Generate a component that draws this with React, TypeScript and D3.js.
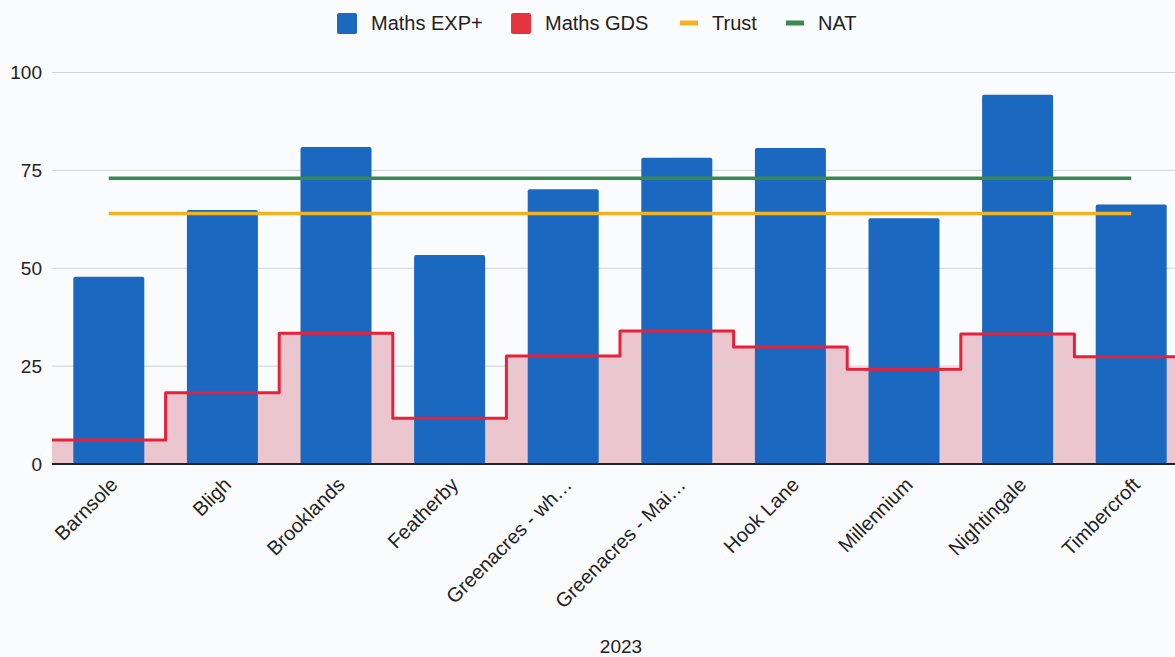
import { useEffect, useRef } from 'react';
import * as d3 from 'd3';

const schools = ['Barnsole', 'Bligh', 'Brooklands', 'Featherby', 'Greenacres - wh\u2026', 'Greenacres - Mai\u2026', 'Hook Lane', 'Millennium', 'Nightingale', 'Timbercroft'];
const mathsExp = [47.8, 64.9, 81, 53.4, 70.2, 78.2, 80.7, 62.8, 94.3, 66.3];
const mathsGds = [6.1, 18.2, 33.4, 11.7, 27.6, 34, 29.9, 24.2, 33.2, 27.4];
const trust = [64, 64, 64, 64, 64, 64, 64, 64, 64, 64];
const nat = [73, 73, 73, 73, 73, 73, 73, 73, 73, 73];
const yTicks = [0, 25, 50, 75, 100];
const xTitle = '2023';

const App = () => {
    const ref = useRef<SVGSVGElement>(null);

    useEffect(() => {
        const width = 1175;
        const height = 657;
        const left = 52;
        const step = 113.6;
        const font = '"Liberation Sans", Arial, sans-serif';

        const svg: any = d3.select(ref.current);
        svg.selectAll('*').remove();
        svg.attr('width', width).attr('height', height);

        svg.append('rect').attr('width', width).attr('height', height).attr('fill', '#fafbfc');

        const x = d3.scaleBand().domain(schools).range([left, left + step * schools.length]).padding(0);
        const y = d3.scaleLinear().domain([0, 100]).range([464, 72.5]);
        const barW = x.bandwidth() * 0.625;
        const cx = (d: string) => (x(d) as number) + x.bandwidth() / 2;

        // stepped area (behind everything)
        const stepPts: [number, number][] = schools.map((s, i) => [x(s) as number, mathsGds[i]]);
        stepPts.push([(x(schools[schools.length - 1]) as number) + x.bandwidth(), mathsGds[mathsGds.length - 1]]);

        const area = d3.area<[number, number]>()
            .x(d => d[0]).y0(y(0)).y1(d => y(d[1]))
            .curve(d3.curveStepAfter);
        svg.append('path').attr('d', area(stepPts)).attr('fill', '#ecc6cf');

        // gridlines
        svg.selectAll('.grid').data(yTicks.filter(t => t > 0)).enter().append('line')
            .attr('x1', left).attr('x2', width)
            .attr('y1', (d: number) => y(d)).attr('y2', (d: number) => y(d))
            .attr('stroke', '#cfd2d8').attr('stroke-width', 1);

        svg.selectAll('.ylab').data(yTicks).enter().append('text')
            .attr('x', 42).attr('y', (d: number) => y(d))
            .attr('dy', '0.36em').attr('text-anchor', 'end')
            .style('font-family', font).style('font-size', '19px').attr('fill', '#222')
            .text((d: number) => d);

        // bars
        svg.selectAll('.bar').data(schools).enter().append('rect')
            .attr('x', (d: string) => cx(d) - barW / 2)
            .attr('y', (d: string, i: number) => y(mathsExp[i]))
            .attr('width', barW)
            .attr('height', (d: string, i: number) => y(0) - y(mathsExp[i]))
            .attr('rx', 2)
            .attr('fill', '#1a68bf');

        // step line
        const stepLine = d3.line<[number, number]>().x(d => d[0]).y(d => y(d[1])).curve(d3.curveStepAfter);
        svg.append('path').attr('d', stepLine(stepPts)).attr('fill', 'none')
            .attr('stroke', '#e8213a').attr('stroke-width', 3).attr('stroke-linejoin', 'round');

        // baseline
        svg.append('line').attr('x1', left).attr('x2', width).attr('y1', y(0)).attr('y2', y(0))
            .attr('stroke', '#222').attr('stroke-width', 2);

        const refLine = d3.line<number>().x((d, i) => cx(schools[i])).y(d => y(d));
        svg.append('path').attr('d', refLine(trust)).attr('fill', 'none').attr('stroke', '#f0b323').attr('stroke-width', 3.5);
        svg.append('path').attr('d', refLine(nat)).attr('fill', 'none').attr('stroke', '#3a8a50').attr('stroke-width', 3.5);

        // x labels
        svg.selectAll('.xlab').data(schools).enter().append('text')
            .attr('transform', (d: string) => 'translate(' + (cx(d) + 10) + ',' + 486 + ') rotate(-45)')
            .attr('text-anchor', 'end')
            .style('font-family', font).style('font-size', '20px').attr('fill', '#222')
            .text((d: string) => d);

        svg.append('text').attr('x', 621).attr('y', 653).attr('text-anchor', 'middle')
            .style('font-family', font).style('font-size', '19px').attr('fill', '#222')
            .text(xTitle);

        // legend
        const legend = [
            { label: 'Maths EXP+', color: '#1a68bf', type: 'box', x: 337 },
            { label: 'Maths GDS', color: '#e5343f', type: 'box', x: 511 },
            { label: 'Trust', color: '#f0b323', type: 'line', x: 680 },
            { label: 'NAT', color: '#3a8a50', type: 'line', x: 786 }
        ];
        const lg = svg.selectAll('.legend').data(legend).enter().append('g')
            .attr('transform', (d: any) => 'translate(' + d.x + ',' + 23 + ')');
        lg.filter((d: any) => d.type === 'box').append('rect')
            .attr('x', 0).attr('y', -10).attr('width', 20).attr('height', 21).attr('rx', 2)
            .attr('fill', (d: any) => d.color);
        lg.filter((d: any) => d.type === 'line').append('rect')
            .attr('x', 0).attr('y', -2.5).attr('width', 18).attr('height', 5)
            .attr('fill', (d: any) => d.color);
        lg.append('text')
            .attr('x', (d: any) => d.type === 'box' ? 34 : 32).attr('y', 0).attr('dy', '0.36em')
            .style('font-family', font).style('font-size', '20px').attr('fill', '#222')
            .text((d: any) => d.label);
    }, []);

    return (
        <>
            <style>{'body{margin:0}'}</style>
            <svg ref={ref} style={{ display: 'block' }} />
        </>
    );
};

export default App;
